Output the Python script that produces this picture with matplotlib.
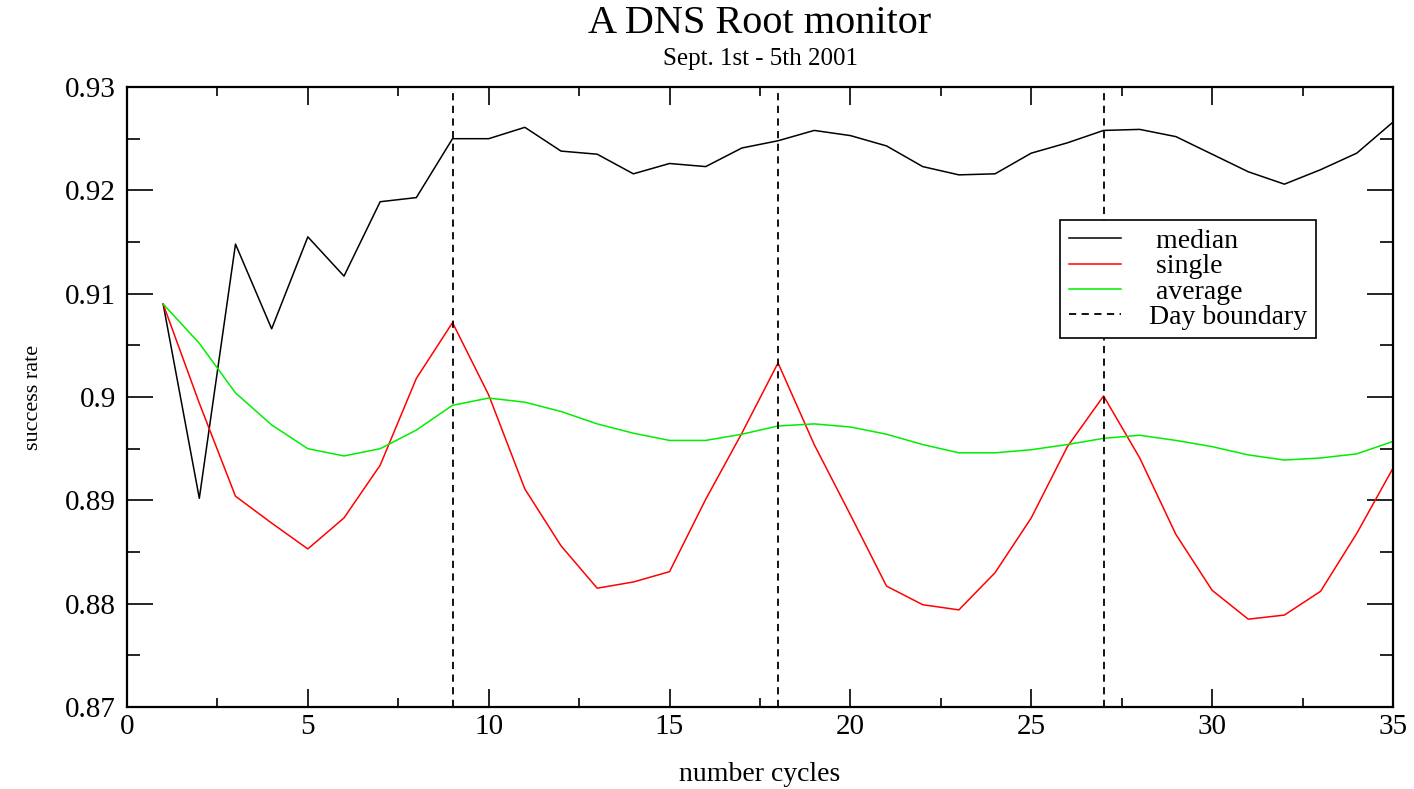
import matplotlib
matplotlib.use("Agg")
import matplotlib.pyplot as plt
from matplotlib.ticker import MultipleLocator

plt.rcParams['font.family'] = ['Liberation Serif', 'DejaVu Serif']

cycles = list(range(1, 36))
median = [0.9090, 0.8902, 0.9148, 0.9066, 0.9155, 0.9117, 0.9189, 0.9193, 0.9250, 0.9250,
          0.9261, 0.9238, 0.9235, 0.9216, 0.9226, 0.9223, 0.9241, 0.9248, 0.9258, 0.9253,
          0.9243, 0.9223, 0.9215, 0.9216, 0.9236, 0.9246, 0.9258, 0.9259, 0.9252, 0.9235,
          0.9218, 0.9206, 0.9220, 0.9236, 0.9266]
single = [0.9090, 0.8994, 0.8904, 0.8878, 0.8853, 0.8883, 0.8934, 0.9018, 0.9072, 0.9002,
          0.8911, 0.8856, 0.8815, 0.8821, 0.8831, 0.8901, 0.8965, 0.9033, 0.8954, 0.8886,
          0.8817, 0.8799, 0.8794, 0.8830, 0.8883, 0.8952, 0.9001, 0.8941, 0.8867, 0.8813,
          0.8785, 0.8789, 0.8812, 0.8868, 0.8931]
average = [0.9090, 0.9052, 0.9004, 0.8973, 0.8950, 0.8943, 0.8950, 0.8968, 0.8992, 0.8999,
           0.8995, 0.8986, 0.8974, 0.8965, 0.8958, 0.8958, 0.8964, 0.8972, 0.8974, 0.8971,
           0.8964, 0.8954, 0.8946, 0.8946, 0.8949, 0.8954, 0.8960, 0.8963, 0.8958, 0.8952,
           0.8944, 0.8939, 0.8941, 0.8945, 0.8957]
day_boundaries = [9, 18, 27]

fig = plt.figure(figsize=(14.14, 7.89), dpi=100)
ax = fig.add_axes([0.0898, 0.1039, 0.8953, 0.7858])

ax.plot(cycles, median, color='black', lw=1.1, label=' median')
ax.plot(cycles, single, color='#ff0000', lw=1.1, label=' single')
ax.plot(cycles, average, color='#00ee00', lw=1.1, label=' average')
for i, b in enumerate(day_boundaries):
    ax.axvline(b, color='black', lw=1.3, ls=(0, (4, 3)),
               label='Day boundary' if i == 0 else None)

ax.set_xlim(0, 35)
ax.set_ylim(0.87, 0.93)
ax.xaxis.set_major_locator(MultipleLocator(5))
ax.xaxis.set_minor_locator(MultipleLocator(2.5))
ax.yaxis.set_major_locator(MultipleLocator(0.01))
ax.yaxis.set_minor_locator(MultipleLocator(0.005))
ax.set_yticks([0.87, 0.88, 0.89, 0.90, 0.91, 0.92, 0.93])
ax.set_yticklabels(['0.87', '0.88', '0.89', '0.9', '0.91', '0.92', '0.93'])

ax.tick_params(axis='both', which='both', direction='in', top=True, right=True, width=1.2)
ax.tick_params(axis='x', which='major', length=13, labelsize=21, pad=5)
ax.tick_params(axis='x', which='minor', length=6.5)
ax.tick_params(axis='y', which='major', length=19, labelsize=21, pad=8)
ax.tick_params(axis='y', which='minor', length=9.5)
for s in ax.spines.values():
    s.set_linewidth(1.6)

ax.set_xlabel('number cycles', fontsize=20, labelpad=16)
ax.set_ylabel('success rate', fontsize=16, labelpad=16)

fig.text(0.5375, 0.970, 'A DNS Root monitor', ha='center', va='center', fontsize=29)
fig.text(0.5375, 0.925, 'Sept. 1st - 5th 2001', ha='center', va='center', fontsize=18)

leg = ax.legend(loc='upper right', bbox_to_anchor=(0.939, 0.7855), fontsize=20,
                frameon=True, fancybox=False, edgecolor='black', framealpha=1,
                handlelength=1.9, borderpad=0.3, labelspacing=0.0, handletextpad=1.0,
                borderaxespad=0)
leg.get_frame().set_linewidth(1.2)

fig.savefig('out.png', dpi=100)
